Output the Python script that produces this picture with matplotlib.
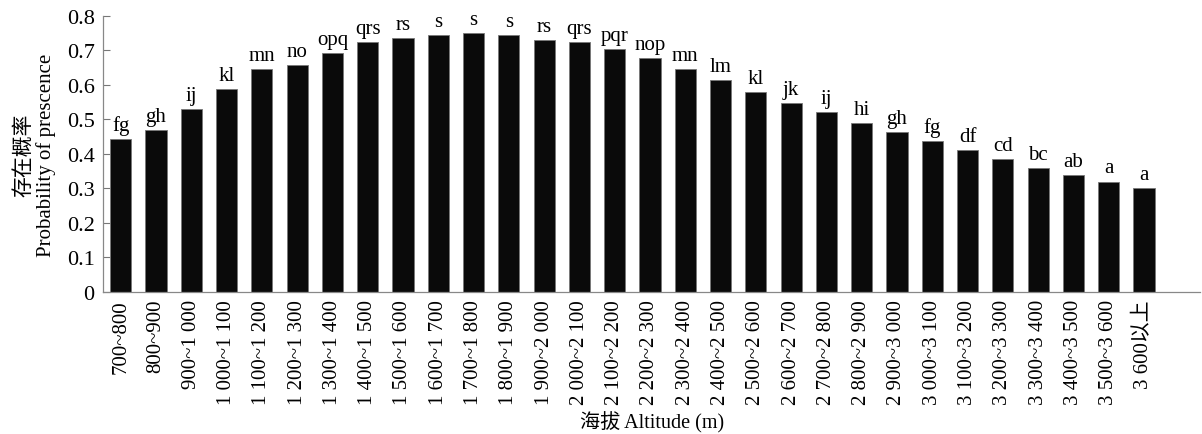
import matplotlib
matplotlib.use("Agg")
import matplotlib.pyplot as plt
from matplotlib.ticker import FuncFormatter

plt.rcParams['font.family'] = ['Liberation Serif', 'Noto Sans CJK SC']

altitudes = ["700~800", "800~900", "900~1 000", "1 000~1 100", "1 100~1 200",
             "1 200~1 300", "1 300~1 400", "1 400~1 500", "1 500~1 600",
             "1 600~1 700", "1 700~1 800", "1 800~1 900", "1 900~2 000",
             "2 000~2 100", "2 100~2 200", "2 200~2 300", "2 300~2 400",
             "2 400~2 500", "2 500~2 600", "2 600~2 700", "2 700~2 800",
             "2 800~2 900", "2 900~3 000", "3 000~3 100", "3 100~3 200",
             "3 200~3 300", "3 300~3 400", "3 400~3 500", "3 500~3 600",
             "3 600以上"]
presence = [0.443, 0.470, 0.529, 0.587, 0.645, 0.658, 0.692, 0.723, 0.736,
            0.743, 0.749, 0.743, 0.730, 0.723, 0.703, 0.677, 0.645, 0.613,
            0.580, 0.548, 0.521, 0.489, 0.463, 0.437, 0.411, 0.384, 0.359,
            0.339, 0.320, 0.300]
letters = ["fg", "gh", "ij", "kl", "mn", "no", "opq", "qrs", "rs", "s", "s",
           "s", "rs", "qrs", "pqr", "nop", "mn", "lm", "kl", "jk", "ij", "hi",
           "gh", "fg", "df", "cd", "bc", "ab", "a", "a"]

fig = plt.figure(figsize=(12.02, 4.35), dpi=100)
ax = fig.add_axes([0.0857, 0.3264, 0.913, 0.635])

x = range(len(presence))
ax.bar(x, presence, width=0.6, color='#0a0a0a', edgecolor='#777777', linewidth=0.6)

# significance letters above each bar
for i, v in enumerate(presence):
    ax.text(i, v + 0.012, letters[i], ha='center', va='bottom', fontsize=15)

ax.set_xlim(-0.5, 30.6)
ax.set_ylim(0, 0.8)
ax.set_yticks([0, 0.1, 0.2, 0.3, 0.4, 0.5, 0.6, 0.7, 0.8])
ax.yaxis.set_major_formatter(FuncFormatter(lambda v, p: "0" if v == 0 else "%.1f" % v))
ax.set_xticks(list(x))
ax.set_xticklabels(altitudes, rotation=90, va='top', ha='center', fontsize=15)
ax.tick_params(axis='y', direction='in', length=5, width=0.8, color='#777777', labelsize=16, pad=6)
ax.tick_params(axis='x', length=0, pad=5)

for side in ['top', 'right']:
    ax.spines[side].set_visible(False)
for side in ['left', 'bottom']:
    ax.spines[side].set_color('#888888')
    ax.spines[side].set_linewidth(0.9)

ax.set_ylabel("存在概率\nProbability of prescence", fontsize=15, linespacing=1.1, labelpad=8)
ax.set_xlabel("海拔 Altitude (m)", fontsize=14.5)
ax.xaxis.set_label_coords(0.5, -0.47)
ax.xaxis.label.set_va('center')

fig.savefig("out.png", dpi=100)
